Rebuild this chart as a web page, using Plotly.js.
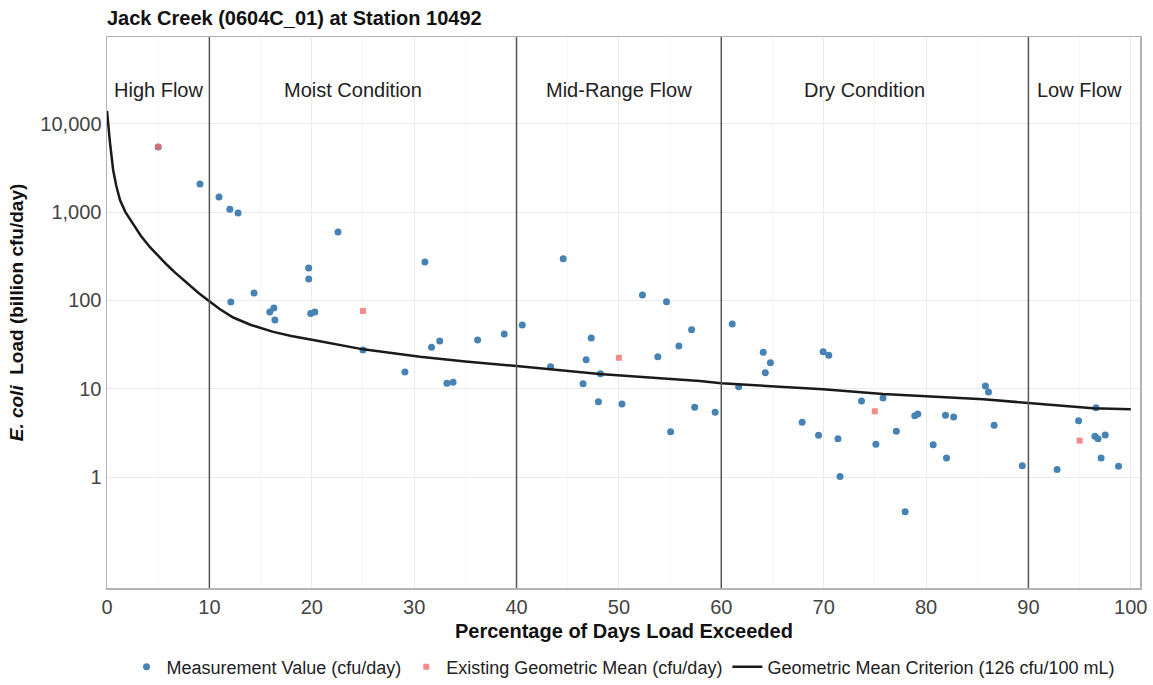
<!DOCTYPE html>
<html>
<head>
<meta charset="utf-8">
<script src="https://cdn.plot.ly/plotly-3.0.1.min.js"></script>
<style>
html,body{margin:0;padding:0;background:#fff;}
#chart{width:1153px;height:685px;}
</style>
</head>
<body>
<div id="chart"></div>
<script>
// Measurement values (percent of days exceeded, billion cfu/day)
const measX = [5.0, 9.08, 10.94, 12.0, 12.8, 12.1, 14.36, 15.9, 16.3, 16.4, 19.7, 19.7, 19.9, 20.3, 22.56, 25.0, 29.1, 31.05, 31.7, 32.5, 33.2, 33.8, 36.2, 38.8,
  40.56, 43.33, 44.56, 46.5, 46.8, 47.3, 48.0, 48.2, 50.3, 52.3, 53.8, 54.65, 55.05, 55.86, 57.1, 57.4, 59.4,
  61.07, 61.7, 64.1, 64.3, 64.8, 67.9, 69.5, 69.95, 70.5, 71.4, 71.6, 73.7, 75.1, 75.8, 77.1, 77.96, 78.9, 79.2, 80.7, 81.9, 82.0, 82.7, 85.8, 86.1, 86.65, 89.4,
  92.8, 94.9, 96.5, 96.6, 96.8, 97.1, 97.5, 98.8];
const measY = [5460, 2080, 1480, 1080, 980, 96, 121, 74, 82, 60, 233, 175, 71, 74, 595, 27.4, 15.5, 272, 29.4, 34.7, 11.5, 11.8, 35.6, 41.6,
  52.7, 17.7, 297, 11.4, 21.3, 37.5, 7.1, 14.8, 6.7, 115, 23, 96.7, 3.26, 30.5, 46.6, 6.16, 5.4,
  54, 10.5, 25.8, 15.2, 19.7, 4.17, 2.97, 26.2, 23.9, 2.72, 1.01, 7.26, 2.35, 7.85, 3.29, 0.405, 4.94, 5.17, 2.32, 5.0, 1.64, 4.79, 10.7, 9.2, 3.85, 1.34,
  1.22, 4.34, 2.89, 6.1, 2.72, 1.64, 2.99, 1.32];

// Existing geometric mean per flow regime
const gmX = [5, 25, 50, 75, 95];
const gmY = [5460, 76, 22.4, 5.55, 2.58];

// Geometric mean criterion curve (126 cfu/100 mL)
const critX = [0, 0.15, 0.3, 0.6, 0.9, 1.27, 1.8, 2.5, 3.3, 4.2, 5.0, 5.9, 6.6, 7.4, 8.2, 9.0, 10.0, 11.0, 12.33, 14.0, 16.24, 18.0, 20.15, 22.5, 25.03, 30.57, 35.0, 40.0, 48.1, 57.9, 60.0, 69.95, 75.8, 85.6, 89.8, 93.0, 96.3, 100];
const critY = [14000, 9000, 6000, 3000, 2000, 1370, 1000, 750, 540, 400, 318, 250, 209, 173, 144, 120, 98, 80, 64, 53, 44, 39.5, 35.6, 31.5, 27.9, 23, 20.3, 18.1, 14.7, 12.2, 11.5, 9.84, 8.71, 7.59, 6.94, 6.5, 6.0, 5.85];

// Flow regime boundaries and labels
const flowBreaks = [10, 40, 60, 90];
const regimeLabels = ["High Flow", "Moist Condition", "Mid-Range Flow", "Dry Condition", "Low Flow"];
const regimeLabelX = [5, 24, 50, 74, 95];

// Axis ticks
const xTicks = [0, 10, 20, 30, 40, 50, 60, 70, 80, 90, 100];
const yTickVals = [1, 10, 100, 1000, 10000];
const yTickText = ["1", "10", "100", "1,000", "10,000"];

const FONT = "Liberation Sans, Arial, sans-serif";

const traces = [
  {
    x: measX, y: measY, type: "scatter", mode: "markers",
    name: "Measurement Value (cfu/day)",
    marker: {color: "#4682b4", size: 7, symbol: "circle"}
  },
  {
    x: gmX, y: gmY, type: "scatter", mode: "markers",
    name: "Existing Geometric Mean (cfu/day)",
    marker: {color: "rgba(240,110,110,0.8)", size: 6, symbol: "square"}
  },
  {
    x: critX, y: critY, type: "scatter", mode: "lines",
    name: "Geometric Mean Criterion (126 cfu/100 mL)",
    line: {color: "#1a1a1a", width: 2.5, shape: "linear"}
  }
];

const shapes = flowBreaks.map(b => ({
  type: "line", xref: "x", yref: "paper", x0: b, x1: b, y0: 0, y1: 1,
  line: {color: "#555", width: 1.5}
}));

const annotations = regimeLabels.map((t, i) => ({
  text: t, x: regimeLabelX[i], xref: "x", y: 0.904, yref: "paper",
  showarrow: false, xanchor: "center", yanchor: "middle",
  font: {family: FONT, size: 20, color: "#222"}
}));
annotations.push({
  text: "<b>Percentage of Days Load Exceeded</b>",
  x: 0.5, xref: "paper", xanchor: "center",
  y: (588 - 631) / 551, yref: "paper", yanchor: "middle",
  showarrow: false, font: {family: FONT, size: 20, color: "#111"}
});

const layout = {
  width: 1153, height: 685,
  margin: {l: 107, r: 13, t: 37, b: 97},
  paper_bgcolor: "#fff", plot_bgcolor: "#fff",
  font: {family: FONT, size: 20, color: "#444"},
  title: {
    text: "<b>Jack Creek (0604C_01) at Station 10492</b>",
    x: 107 / 1153, xref: "container", xanchor: "left",
    y: 1 - 18 / 685, yref: "container", yanchor: "middle",
    font: {family: FONT, size: 20, color: "#111"}
  },
  xaxis: {
    range: [0, 100.9], tickvals: xTicks, ticks: "", automargin: false,
    showgrid: true, gridcolor: "#ebebeb", gridwidth: 1,
    minor: {dtick: 5, tick0: 0, showgrid: true, gridcolor: "#f5f5f5", gridwidth: 1},
    showline: true, mirror: true, linecolor: "#b3b3b3", linewidth: 1.5,
    zeroline: false,
    tickfont: {family: FONT, size: 20, color: "#444"}
  },
  yaxis: {
    type: "log", range: [-1.257, 4.983], automargin: false,
    tickvals: yTickVals, ticktext: yTickText, ticks: "",
    showgrid: true, gridcolor: "#ebebeb", gridwidth: 1,
    showline: true, mirror: true, linecolor: "#b3b3b3", linewidth: 1.5,
    zeroline: false,
    tickfont: {family: FONT, size: 20, color: "#444"},
    title: {text: "<b><i>E. coli</i>  Load (billion cfu/day)</b>", standoff: 11,
      font: {family: FONT, size: 19, color: "#111"}}
  },
  legend: {
    orientation: "h", x: 0.5, xref: "paper", xanchor: "center",
    y: 1 - 667 / 685, yref: "container", yanchor: "middle",
    font: {family: FONT, size: 18, color: "#222"},
    itemwidth: 30, tracegroupgap: 0
  },
  shapes: shapes,
  annotations: annotations
};

Plotly.newPlot("chart", traces, layout, {displayModeBar: false, staticPlot: true});
</script>
</body>
</html>
